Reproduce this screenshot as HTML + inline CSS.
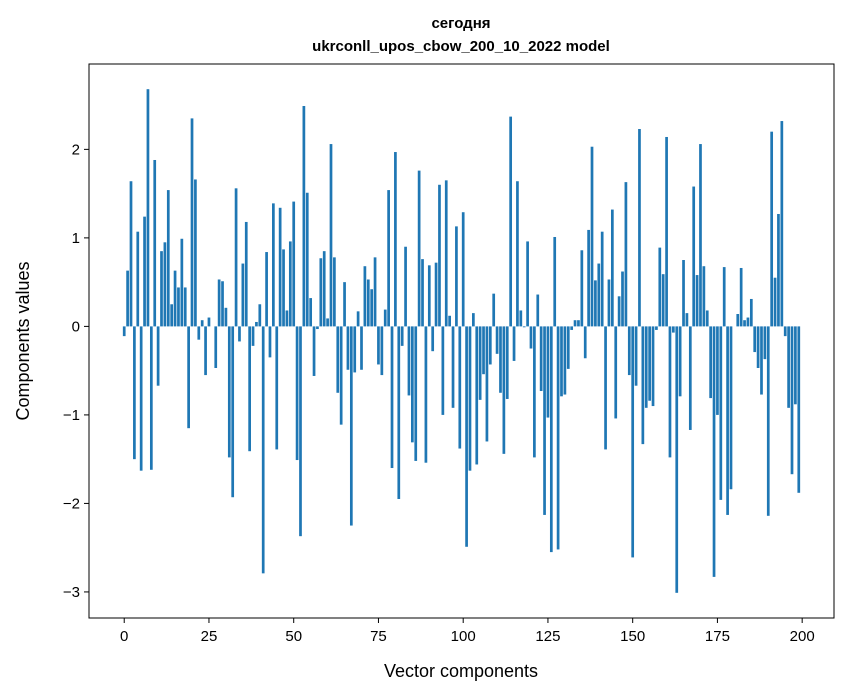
<!DOCTYPE html>
<html><head><meta charset="utf-8"><style>
body{margin:0;background:#fff;}
svg{display:block;font-family:"Liberation Sans","DejaVu Sans",sans-serif;}
</style></head><body>
<svg id="chart" width="847" height="696" viewBox="0 0 847 696">
<rect x="0" y="0" width="847" height="696" fill="#fff"/>
<text x="461" y="28" text-anchor="middle" font-size="15" font-weight="bold">сегодня</text>
<text x="461" y="51" text-anchor="middle" font-size="15" font-weight="bold">ukrconll_upos_cbow_200_10_2022 model</text>
<g id="bars"></g>
<g id="xticks"></g>
<g id="yticks"></g>
<rect x="89" y="64" width="745" height="554" fill="none" stroke="#000" stroke-width="1"/>
<text x="461" y="677" text-anchor="middle" font-size="18">Vector components</text>
<text x="29" y="341" text-anchor="middle" font-size="18" transform="rotate(-90 29 341)">Components values</text>
</svg>
<script>
const values = [-0.11,0.63,1.64,-1.50,1.07,-1.63,1.24,2.68,-1.62,1.88,
-0.67,0.85,0.95,1.54,0.25,0.63,0.44,0.99,0.44,-1.15,
2.35,1.66,-0.15,0.07,-0.55,0.10,0.0,-0.47,0.53,0.51,
0.21,-1.48,-1.93,1.56,-0.17,0.71,1.18,-1.41,-0.22,0.05,
0.25,-2.79,0.84,-0.35,1.39,-1.39,1.34,0.87,0.18,0.96,
1.41,-1.51,-2.37,2.49,1.51,0.32,-0.56,-0.03,0.77,0.85,
0.09,2.06,0.78,-0.75,-1.11,0.50,-0.49,-2.25,-0.52,0.17,
-0.49,0.68,0.53,0.42,0.78,-0.43,-0.55,0.19,1.54,-1.60,
1.97,-1.95,-0.22,0.90,-0.78,-1.31,-1.52,1.76,0.76,-1.54,
0.69,-0.28,0.72,1.60,-1.00,1.65,0.12,-0.92,1.13,-1.38,
1.29,-2.49,-1.63,0.15,-1.56,-0.83,-0.54,-1.30,-0.43,0.37,
-0.31,-0.75,-1.44,-0.82,2.37,-0.39,1.64,0.18,-0.01,0.96,
-0.25,-1.48,0.36,-0.73,-2.13,-1.03,-2.55,1.01,-2.52,-0.79,
-0.77,-0.48,-0.04,0.07,0.07,0.86,-0.36,1.09,2.03,0.52,
0.71,1.07,-1.39,0.53,1.32,-1.04,0.34,0.62,1.63,-0.55,
-2.61,-0.67,2.23,-1.33,-0.92,-0.84,-0.90,-0.04,0.89,0.59,
2.14,-1.48,-0.07,-3.01,-0.79,0.75,0.15,-1.17,1.58,0.58,
2.06,0.68,0.18,-0.81,-2.83,-1.00,-1.96,0.67,-2.13,-1.84,
0.0,0.14,0.66,0.07,0.10,0.31,-0.29,-0.47,-0.77,-0.37,
-2.14,2.20,0.55,1.27,2.32,-0.11,-0.92,-1.67,-0.88,-1.88];
const xTickValues = [0,25,50,75,100,125,150,175,200];
const yTickValues = [-3,-2,-1,0,1,2];
const yTickLabels = ["\u22123","\u22122","\u22121","0","1","2"];

const NS = "http://www.w3.org/2000/svg";
const L = 89, R = 834, T = 64, B = 618;
const n = values.length;
const xmin0 = -0.4, xmax0 = n - 1 + 0.4;
const xm = (xmax0 - xmin0) * 0.05;
const xlo = xmin0 - xm, xhi = xmax0 + xm;
const vmin = Math.min(0, ...values), vmax = Math.max(0, ...values);
const ym = (vmax - vmin) * 0.05;
const ylo = vmin - ym, yhi = vmax + ym;
function xs(v){ return L + (v - xlo) / (xhi - xlo) * (R - L); }
function ys(v){ return B - (v - ylo) / (yhi - ylo) * (B - T); }

const bars = document.getElementById('bars');
values.forEach((v, i) => {
  const r = document.createElementNS(NS, 'rect');
  const x0 = xs(i - 0.4), x1 = xs(i + 0.4);
  const y0 = ys(Math.max(v, 0)), y1 = ys(Math.min(v, 0));
  r.setAttribute('x', x0);
  r.setAttribute('y', y0);
  r.setAttribute('width', x1 - x0);
  r.setAttribute('height', Math.max(0, y1 - y0));
  r.setAttribute('fill', '#1f77b4');
  
  
  bars.appendChild(r);
});

const xg = document.getElementById('xticks');
xTickValues.forEach(t => {
  const x = xs(t);
  const l = document.createElementNS(NS, 'line');
  l.setAttribute('x1', x); l.setAttribute('x2', x);
  l.setAttribute('y1', B); l.setAttribute('y2', B + 5);
  l.setAttribute('stroke', '#000');
  
  
  xg.appendChild(l);
  const tx = document.createElementNS(NS, 'text');
  tx.setAttribute('x', x); tx.setAttribute('y', B + 23);
  tx.setAttribute('text-anchor', 'middle');
  tx.setAttribute('font-size', '15');
  tx.textContent = String(t);
  
  
  xg.appendChild(tx);
});

const yg = document.getElementById('yticks');
yTickValues.forEach((t, k) => {
  const y = ys(t);
  const l = document.createElementNS(NS, 'line');
  l.setAttribute('x1', L - 5); l.setAttribute('x2', L);
  l.setAttribute('y1', y); l.setAttribute('y2', y);
  l.setAttribute('stroke', '#000');
  
  
  yg.appendChild(l);
  const tx = document.createElementNS(NS, 'text');
  tx.setAttribute('x', L - 9); tx.setAttribute('y', y + 5);
  tx.setAttribute('text-anchor', 'end');
  tx.setAttribute('font-size', '15');
  tx.textContent = yTickLabels[k];
  
  
  yg.appendChild(tx);
});
</script>
</body></html>
